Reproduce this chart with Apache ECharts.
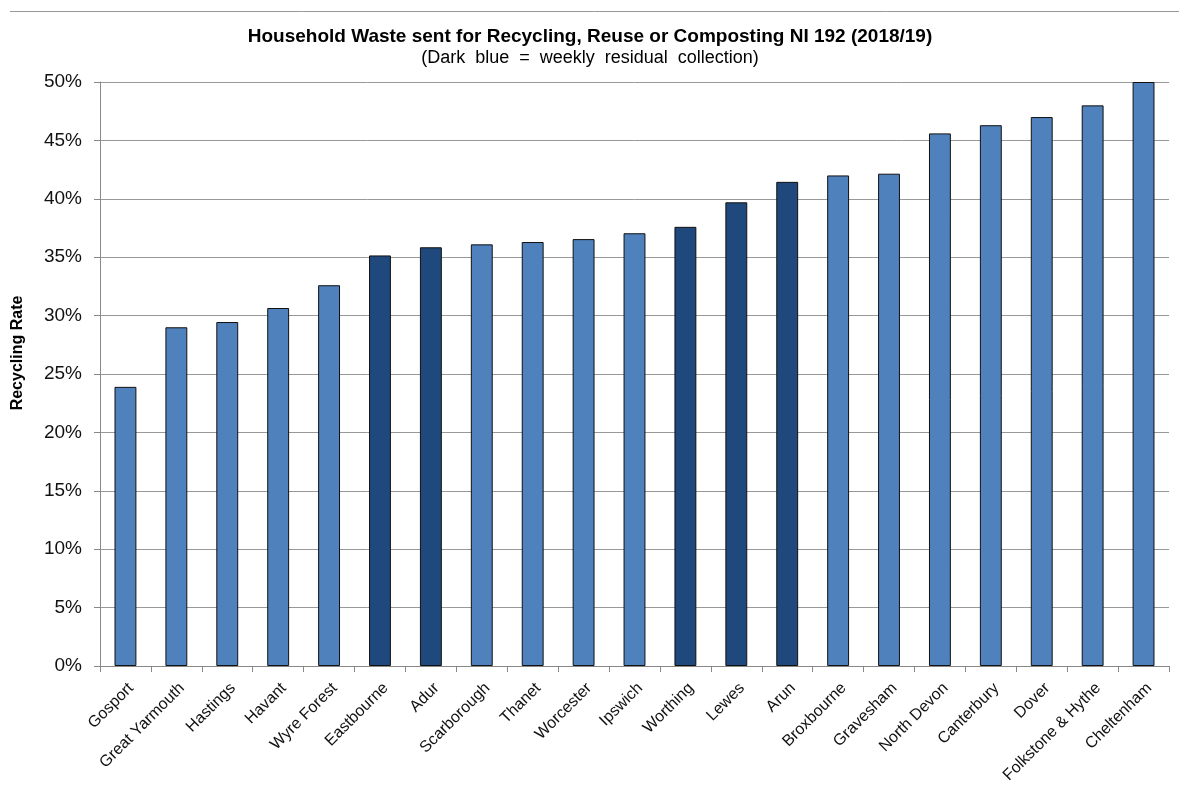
<!DOCTYPE html>
<html><head><meta charset="utf-8">
<script src="https://cdn.jsdelivr.net/npm/echarts@6/dist/echarts.min.js"></script>
<style>html,body{margin:0;padding:0;background:#fff}#c{width:1179px;height:792px}</style>
</head><body><div id="c"></div>
<script>
const categories = ["Gosport","Great Yarmouth","Hastings","Havant","Wyre Forest","Eastbourne","Adur","Scarborough","Thanet","Worcester","Ipswich","Worthing","Lewes","Arun","Broxbourne","Gravesham","North Devon","Canterbury","Dover","Folkstone & Hythe","Cheltenham"];
const rates = [23.9,29.0,29.45,30.65,32.6,35.15,35.85,36.1,36.3,36.55,37.05,37.6,39.7,41.45,42.0,42.15,45.6,46.3,47.0,48.0,50.0];
const weeklyResidual = [false,false,false,false,false,true,true,false,false,false,false,true,true,true,false,false,false,false,false,false,false];
const yTicks = [0,5,10,15,20,25,30,35,40,45,50];

const LIGHT = '#4F81BD', DARK = '#1F497D';
const chart = echarts.init(document.getElementById('c'), null, {renderer:'canvas'});
chart.setOption({
  animation:false,
  backgroundColor:'#fff',
  title:{
    text:'Household Waste sent for Recycling, Reuse or Composting NI 192 (2018/19)',
    subtext:'(Dark  blue  =  weekly  residual  collection)',
    left:585, top:22, textAlign:'center', itemGap:3,
    textStyle:{fontFamily:'Liberation Sans',fontWeight:'bold',fontSize:19,color:'#000'},
    subtextStyle:{fontFamily:'Liberation Sans',fontSize:18,color:'#000'}
  },
  graphic:[{type:'line',shape:{x1:10,y1:11.5,x2:1179,y2:11.5},style:{stroke:'#999',lineWidth:1}}],
  grid:{left:100,right:10,top:82,bottom:126,containLabel:false},
  xAxis:{
    type:'category', data:categories,
    axisLine:{lineStyle:{color:'#888'}},
    axisTick:{show:true,alignWithLabel:false,length:6,lineStyle:{color:'#888'}},
    axisLabel:{rotate:45,interval:0,fontFamily:'Liberation Sans',fontSize:16,color:'#111',margin:14,verticalAlign:'top'}
  },
  yAxis:{
    type:'value', min:0, max:50, interval:5,
    name:'Recycling Rate', nameLocation:'middle', nameGap:74, nameRotate:90,
    nameTextStyle:{fontFamily:'Liberation Sans',fontWeight:'bold',fontSize:16,color:'#000',padding:[0,0,0,42]},
    axisLine:{show:true,lineStyle:{color:'#888'}},
    axisTick:{show:true,length:6,lineStyle:{color:'#888'}},
    splitLine:{lineStyle:{color:'#999',width:1}},
    axisLabel:{fontFamily:'Liberation Sans',fontSize:19,color:'#111',margin:18,
      formatter:v=> yTicks.includes(v) ? v+'%' : ''}
  },
  series:[{
    type:'bar', barWidth:'43%',
    data:rates.map((v,i)=>({value:v,itemStyle:{color:weeklyResidual[i]?DARK:LIGHT}})),
    itemStyle:{borderColor:'#111',borderWidth:1}
  }]
});
</script></body></html>
